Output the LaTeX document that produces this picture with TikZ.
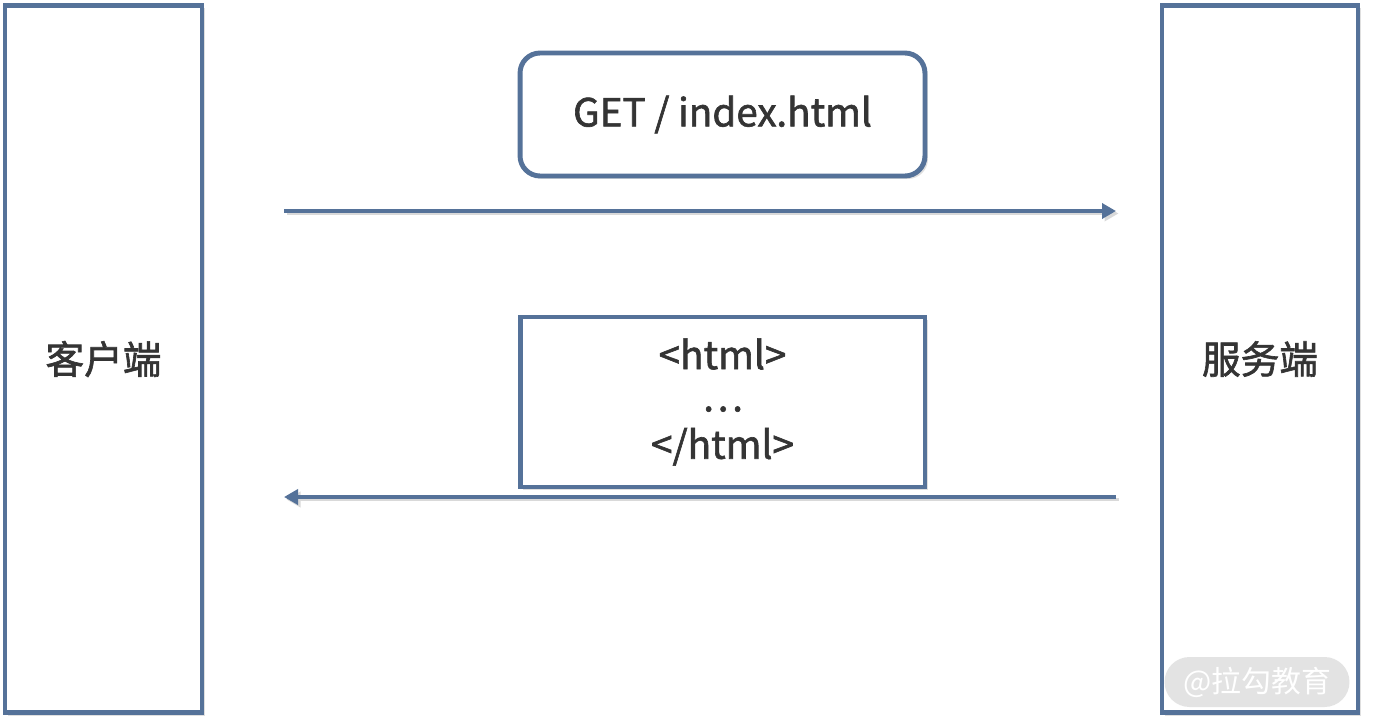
\documentclass[tikz,border=0pt]{standalone}
\usepackage{fontspec}
\setmainfont{Noto Sans CJK SC}
\newfontfamily\medfont{Noto Sans CJK SC}[FakeBold=1.6]
\usetikzlibrary{positioning,arrows.meta,shadows}
\definecolor{edgeblue}{RGB}{85,114,153}
\definecolor{inkgray}{RGB}{52,52,52}
\tikzset{
  % tall client / server pillar
  pillar/.style  = {rectangle, draw=edgeblue, line width=2.8pt, fill=white,
                    font=\medfont\fontsize{22}{26}\selectfont, text=inkgray,
                    drop shadow={opacity=0.25, shadow xshift=0.06cm, shadow yshift=-0.06cm}},
  % message box between the arrows
  msg/.style     = {rectangle, draw=edgeblue, line width=2.8pt, fill=white,
                    align=center, text=inkgray, minimum width=8.1cm,
                    drop shadow={opacity=0.25, shadow xshift=0.06cm, shadow yshift=-0.06cm}},
  % arrows
  flow/.style    = {-{Triangle[length=2.8mm, width=3mm]}, edgeblue, line width=2.2pt,
                    preaction={draw=black!15, line width=2.2pt,
                               transform canvas={shift={(0.05cm,-0.05cm)}}}},
  % watermark pill
  wmark/.style   = {rectangle, rounded corners=0.5cm, fill=gray!25, fill opacity=0.85,
                    text=white, text opacity=1, minimum width=3.7cm, minimum height=1cm,
                    font=\fontsize{17}{20}\selectfont},
}
\begin{document}
\begin{tikzpicture}[x=0.02cm, y=-0.02cm]
  \useasboundingbox (0,0) rectangle (1373,727);

  % --- client and server ---
  \node[pillar, minimum width=3.94cm, minimum height=14.16cm] (client) at (103.5,359) {客户端};
  \node[pillar, minimum width=3.92cm, minimum height=14.16cm] (server) at (1260,359) {服务端};

  % --- request ---
  \node[msg, rounded corners=0.4cm, minimum height=2.46cm,
        font=\medfont\fontsize{22}{26}\selectfont] (req) at (722.5,114.5) {GET / index.html};
  \coordinate (reqA) at (284,211);
  \coordinate (reqB) at (1116,211);
  \draw[flow] (reqA) -- (reqB);

  % --- response ---
  \node[msg, minimum height=3.4cm, font=\medfont\fontsize{22}{27}\selectfont] (resp) at (722.5,402)
       {\raisebox{-3pt}{<html>}\\…\\</html>};
  \coordinate (respA) at (1116,497);
  \coordinate (respB) at (284,497);
  \draw[flow] (respA) -- (respB);

  % --- watermark ---
  \node[wmark] (logo) at (1257,682) {@拉勾教育};

\end{tikzpicture}
\end{document}
